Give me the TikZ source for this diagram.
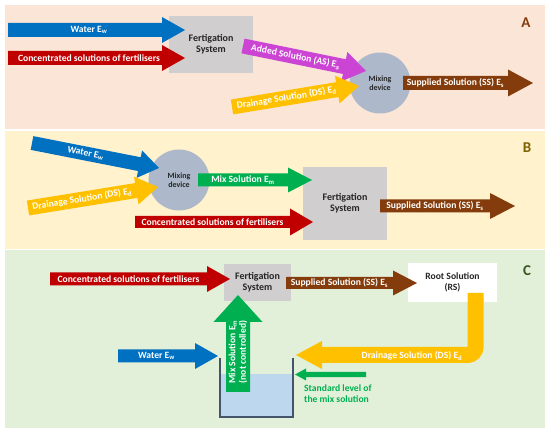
\documentclass[tikz,border=0pt]{standalone}
\usepackage{fontspec}
\setmainfont{Carlito}
\usetikzlibrary{calc}
\definecolor{bgA}{HTML}{FBE5D6}
\definecolor{bgB}{HTML}{FFF2CC}
\definecolor{bgC}{HTML}{E2F0D9}
\definecolor{cblue}{HTML}{0070C0}
\definecolor{cred}{HTML}{C00000}
\definecolor{cmag}{HTML}{CC44D4}
\definecolor{corange}{HTML}{FFC000}
\definecolor{cbrown}{HTML}{843C0C}
\definecolor{cgreen}{HTML}{00B050}
\definecolor{cgray}{HTML}{D0CECE}
\definecolor{cmix}{HTML}{ADB9CA}
\definecolor{ctank}{HTML}{44546A}
\definecolor{cwater}{HTML}{BDD7EE}
\definecolor{ctext}{HTML}{262626}
\definecolor{labA}{HTML}{843C0C}
\definecolor{labB}{HTML}{7F6000}
\definecolor{labC}{HTML}{385723}
\tikzset{
  atext/.style={text=white, font=\bfseries\fontsize{9.6}{10.5}\selectfont, inner sep=0pt, align=center},
  fbox/.style={fill=cgray, text=ctext, font=\bfseries\fontsize{10}{11.5}\selectfont, align=center, inner sep=0pt},
  mixer/.style={circle, fill=cmix, text=ctext, font=\bfseries\fontsize{8}{9.5}\selectfont, align=center, inner sep=0pt, minimum size=61pt},
  panellab/.style={font=\bfseries\fontsize{15}{17}\selectfont, inner sep=0pt}
}
% #1 fill, #2 start, #3 tip, #4 shaft half width, #5 head half width, #6 head length, #7 text, #8 text offset, #9 text node name
\newcommand\barrow[9]{%
  \pgfpointdiff{\pgfpointanchor{#2}{center}}{\pgfpointanchor{#3}{center}}%
  \pgfgetlastxy{\bdx}{\bdy}%
  \pgfmathsetmacro\bang{atan2(\bdy,\bdx)}%
  \pgfmathsetmacro\blen{veclen(\bdx,\bdy)}%
  \begin{scope}[shift={(#2)}, rotate=\bang]
    \fill[#1] (0pt,-#4pt) -- ({\blen pt-#6pt},-#4pt) -- ({\blen pt-#6pt},-#5pt) -- ({\blen pt},0pt)
      -- ({\blen pt-#6pt},#5pt) -- ({\blen pt-#6pt},#4pt) -- (0pt,#4pt) -- cycle;
    \node[atext, transform shape] (#9) at ({(\blen-#6)/2*1pt+#8pt},0pt) {#7};
  \end{scope}}
\begin{document}
\begin{tikzpicture}[x=1pt, y=-1pt]
\useasboundingbox (0,0) rectangle (550,435);
\fill[white] (0,0) rectangle (550,435);
% panels
\fill[bgA] (5,5) rectangle (545,129);
\fill[bgB] (5,131) rectangle (545,249);
\fill[bgC] (5,250) rectangle (545,428);
\node[panellab, text=labA] (labelA) at (526,23) {A};
\node[panellab, text=labB] (labelB) at (527,148) {B};
\node[panellab, text=labC] (labelC) at (527,271) {C};

% ---------------- Panel A
\node[fbox, minimum width=84pt, minimum height=57pt] (fsA) at (211,44.5) {Fertigation\\System};
\node[mixer] (mixA) at (380,83) {Mixing\\device};
\coordinate (wA0) at (8,30);   \coordinate (wA1) at (185,30);
\coordinate (cA0) at (8,58);   \coordinate (cA1) at (185,58);
\coordinate (asA0) at (243,46); \coordinate (asA1) at (366,71);
\coordinate (dsA0) at (232,107); \coordinate (dsA1) at (359,86);
\coordinate (ssA0) at (403,83); \coordinate (ssA1) at (533,83);
\barrow{cblue}{wA0}{wA1}{7}{13}{23}{Water E\textsubscript{w}}{4}{twA}
\barrow{cred}{cA0}{cA1}{7}{13}{23}{Concentrated solutions of fertilisers}{4}{tcA}
\barrow{cmag}{asA0}{asA1}{7.5}{15}{22}{Added Solution (AS) E\textsubscript{a}}{2}{tasA}
\barrow{corange}{dsA0}{dsA1}{7.5}{14}{22}{Drainage Solution (DS) E\textsubscript{d}}{2}{tdsA}
\barrow{cbrown}{ssA0}{ssA1}{7}{13.5}{25}{Supplied Solution (SS) E\textsubscript{s}}{0}{tssA}

% ---------------- Panel B
\node[mixer] (mixB) at (179,180) {Mixing\\device};
\node[fbox, minimum width=84pt, minimum height=73pt] (fsB) at (345,203.5) {Fertigation\\System};
\coordinate (wB0) at (32,143);  \coordinate (wB1) at (159,168);
\coordinate (dsB0) at (28,208); \coordinate (dsB1) at (158,187);
\coordinate (msB0) at (198,180); \coordinate (msB1) at (312,180);
\coordinate (cB0) at (135,222); \coordinate (cB1) at (313,222);
\coordinate (ssB0) at (380,206); \coordinate (ssB1) at (515,206);
\barrow{cblue}{wB0}{wB1}{7}{14}{20}{Water E\textsubscript{w}}{0}{twB}
\barrow{corange}{dsB0}{dsB1}{7.5}{14}{22}{Drainage Solution (DS) E\textsubscript{d}}{0}{tdsB}
\barrow{cgreen}{msB0}{msB1}{6.5}{12.5}{24}{Mix Solution E\textsubscript{m}}{0}{tmsB}
\barrow{cred}{cB0}{cB1}{6}{13.5}{23}{Concentrated solutions of fertilisers}{0}{tcB}
\barrow{cbrown}{ssB0}{ssB1}{6.5}{13}{25}{Supplied Solution (SS) E\textsubscript{s}}{0}{tssB}

% ---------------- Panel C
\node[fbox, minimum width=67pt, minimum height=37pt] (fsC) at (257.5,282.5) {Fertigation\\System};
\node[fill=white, text=ctext, font=\bfseries\fontsize{9.6}{11.5}\selectfont, align=center, inner sep=0pt,
      minimum width=89pt, minimum height=39pt] (rsC) at (452.5,282.5) {Root Solution\\(RS)};
% tank
\fill[cwater] (220,374) rectangle (293,417);
\draw[ctank, line width=2.4pt] (220,358) coordinate (tankL) -- (220,417) -- (293,417) -- (293,358) coordinate (tankR);
\coordinate (cC0) at (50,279); \coordinate (cC1) at (230,279);
\coordinate (ssC0) at (286,283); \coordinate (ssC1) at (417,283);
\coordinate (wC0) at (118,356); \coordinate (wC1) at (218,356);
\coordinate (msC0) at (238,392); \coordinate (msC1) at (238,295);
\coordinate (lvC0) at (366,374.5); \coordinate (lvC1) at (295,374.5);
\barrow{cred}{cC0}{cC1}{6.5}{13}{23}{Concentrated solutions of fertilisers}{0}{tcC}
\barrow{cbrown}{ssC0}{ssC1}{6}{12.5}{24}{Supplied Solution (SS) E\textsubscript{s}}{0}{tssC}
\barrow{cblue}{wC0}{wC1}{6.5}{13}{23}{Water E\textsubscript{w}}{0}{twC}
\barrow{cgreen}{msC0}{msC1}{12}{24.5}{27}{Mix Solution E\textsubscript{m}\\(not controlled)}{5}{tmsC}
\barrow{cgreen}{lvC0}{lvC1}{2.7}{6}{11}{}{0}{tlvC}
% drainage bent arrow
\coordinate (dsC0) at (475.5,293);
\coordinate (dsC1) at (321,355);
\coordinate (dsC2) at (296,355);
\draw[corange, line width=16pt, rounded corners=8pt] (dsC0) |- (dsC1);
\fill[corange] (322,341) -- (dsC2) -- (322,369) -- cycle;
\node[atext] (tdsC) at (412,356) {Drainage Solution (DS) E\textsubscript{d}};
\node[text=cgreen, font=\bfseries\fontsize{9.6}{11.5}\selectfont, align=left, inner sep=0pt, anchor=west] (stdC) at (304,393.5) {Standard level of\\the mix solution};
\end{tikzpicture}
\end{document}
